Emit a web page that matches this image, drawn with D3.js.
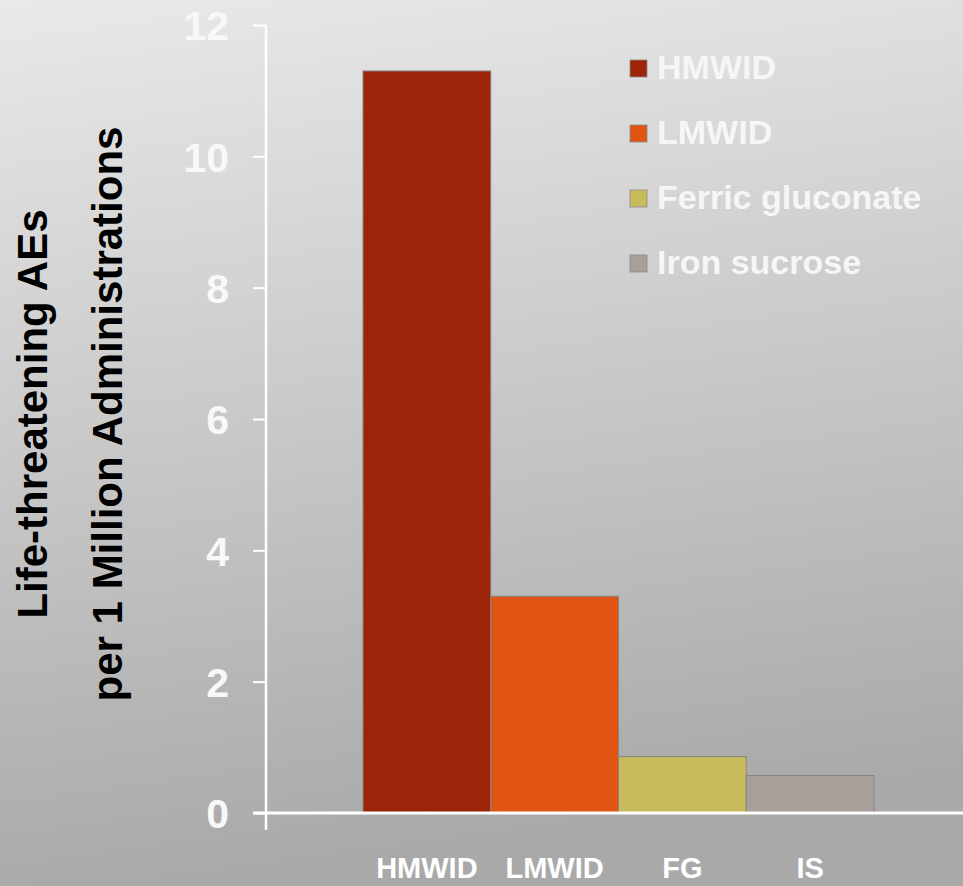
<!DOCTYPE html>
<html>
<head>
<meta charset="utf-8">
<script src="https://cdn.jsdelivr.net/npm/d3@7"></script>
<style>
  html, body { margin: 0; padding: 0; }
  body { width: 963px; height: 886px; overflow: hidden; }
  text { font-family: "Liberation Sans", Arial, sans-serif; font-weight: bold; }
</style>
</head>
<body>
<svg id="chart" width="963" height="886"></svg>
<script>
// data
const categories = ['HMWID', 'LMWID', 'FG', 'IS'];
const series_names = ['HMWID', 'LMWID', 'Ferric gluconate', 'Iron sucrose'];
const values = [11.3, 3.3, 0.86, 0.57];
const y_ticks = [0, 2, 4, 6, 8, 10, 12];
const colors = ['#9b2409', '#e05414', '#c8bb5c', '#a89f9b'];

const svg = d3.select('#chart');

// background gradient
const grad = svg.append('defs')
  .append('linearGradient')
  .attr('id', 'bg')
  .attr('x1', 0).attr('y1', 0)
  .attr('x2', 0.15).attr('y2', 1);
grad.append('stop').attr('offset', '0%').attr('stop-color', '#e9e9e9');
grad.append('stop').attr('offset', '100%').attr('stop-color', '#a9a9a9');

svg.append('rect')
  .attr('width', 963)
  .attr('height', 886)
  .attr('fill', 'url(#bg)');

// scales
const y_scale = d3.scaleLinear().domain([0, 12]).range([813, 25]);
const x_scale = d3.scaleBand()
  .domain(categories)
  .range([363, 874])
  .paddingInner(0)
  .paddingOuter(0);

// bars
svg.append('g')
  .selectAll('rect')
  .data(values)
  .enter()
  .append('rect')
  .attr('x', (d, i) => x_scale(categories[i]))
  .attr('y', d => y_scale(d))
  .attr('width', x_scale.bandwidth())
  .attr('height', d => y_scale(0) - y_scale(d))
  .attr('fill', (d, i) => colors[i])
  .attr('stroke', '#868686')
  .attr('stroke-width', 1);

// y axis
const y_axis = d3.axisLeft(y_scale)
  .tickValues(y_ticks)
  .tickSizeInner(13)
  .tickSizeOuter(0)
  .tickPadding(24)
  .tickFormat(d3.format('d'));

const gy = svg.append('g')
  .attr('transform', 'translate(266, 0)')
  .call(y_axis);

gy.select('.domain').remove();
gy.selectAll('.tick line')
  .attr('stroke', 'white')
  .attr('stroke-width', 2);
gy.selectAll('.tick text')
  .attr('fill', '#f8f8f8')
  .style('font-size', '41px')
  .style('font-family', '"Liberation Sans", Arial, sans-serif')
  .style('font-weight', 'bold')
  .attr('dy', '0.36em');

gy.append('line')
  .attr('x1', 0).attr('x2', 0)
  .attr('y1', y_scale(12))
  .attr('y2', y_scale(0) + 17)
  .attr('stroke', 'white')
  .attr('stroke-width', 2.5);

// x axis
const x_axis = d3.axisBottom(x_scale)
  .tickSize(0)
  .tickPadding(44);

const gx = svg.append('g')
  .attr('transform', `translate(0, ${y_scale(0)})`)
  .call(x_axis);

gx.select('.domain').remove();
gx.selectAll('.tick text')
  .attr('fill', 'white')
  .style('font-size', '29px')
  .style('font-family', '"Liberation Sans", Arial, sans-serif')
  .style('font-weight', 'bold');

gx.append('line')
  .attr('x1', 253).attr('x2', 963)
  .attr('y1', 0).attr('y2', 0)
  .attr('stroke', 'white')
  .attr('stroke-width', 3);

// y axis title
const title = svg.append('text')
  .attr('transform', 'translate(47, 414) rotate(-90)')
  .attr('text-anchor', 'middle')
  .attr('fill', 'black')
  .style('font-size', '42px');
title.append('tspan').attr('x', 0).attr('y', 0).text('Life-threatening AEs');
title.append('tspan').attr('x', 0).attr('y', 75).text('per 1 Million Administrations');

// legend
const legend_y = d3.scaleBand()
  .domain(series_names)
  .range([46, 306]);

const legend = svg.append('g')
  .selectAll('g')
  .data(series_names)
  .enter()
  .append('g')
  .attr('transform', d => `translate(630, ${legend_y(d)})`);

legend.append('rect')
  .attr('width', 17)
  .attr('height', 17)
  .attr('y', 14)
  .attr('fill', (d, i) => colors[i])
  .attr('stroke', '#8a8a8a')
  .attr('stroke-width', 0.8);

legend.append('text')
  .attr('x', 27)
  .attr('y', 33)
  .attr('fill', '#f6f6f6')
  .style('font-size', '34px')
  .text(d => d);
</script>
</body>
</html>
